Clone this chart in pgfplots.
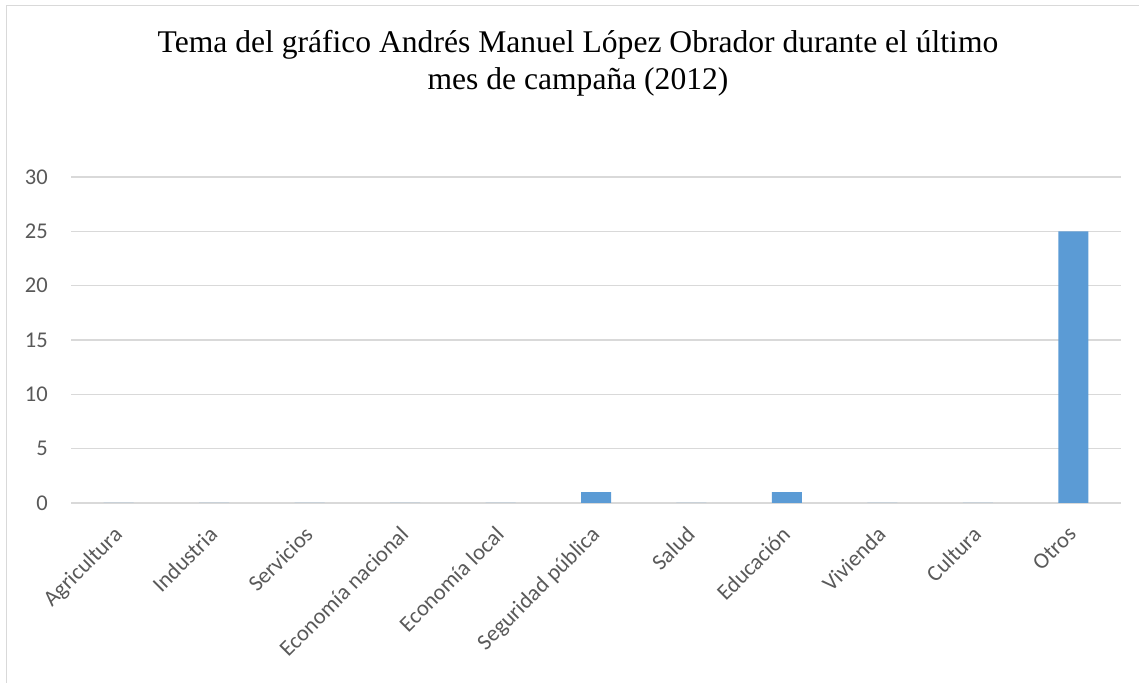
\documentclass[border=0pt]{standalone}
\usepackage{pgfplots}
\pgfplotsset{compat=1.18}
\usepackage{fontspec}
\setmainfont{Carlito}
\newfontfamily\titlefont{Liberation Serif}
\definecolor{barblue}{HTML}{5B9BD5}
\definecolor{gridgray}{HTML}{D9D9D9}
\definecolor{tickgray}{HTML}{595959}
\begin{document}
\begin{tikzpicture}[x=1bp,y=1bp]
\useasboundingbox (0,0) rectangle (1139,683);
\draw[gridgray, line width=1.2bp] (6.5,0) -- (6.5,677.5) -- (1139,677.5);
\node[anchor=base, font=\titlefont\fontsize{31.7}{31.7}\selectfont] at (578,630) {Tema del gráfico Andrés Manuel López Obrador durante el último};
\node[anchor=base, font=\titlefont\fontsize{31.7}{31.7}\selectfont] at (578,593) {mes de campaña (2012)};
\begin{axis}[
  at={(71bp,180bp)}, anchor=south west,
  scale only axis, width=1050bp, height=326bp,
  xmin=0, xmax=11, ymin=0, ymax=30,
  ytick={0,5,...,30},
  xtick={0.5,1.5,...,10.5},
  xticklabels={Agricultura,Industria,Servicios,Economía nacional,Economía local,Seguridad pública,Salud,Educación,Vivienda,Cultura,Otros},
  axis line style={draw=none},
  major tick length=0pt,
  ymajorgrids, grid style={gridgray, line width=1.2bp},
  ticklabel style={font=\fontsize{22.6}{22.6}\selectfont, text=tickgray},
  /pgf/number format/assume math mode=true,
  yticklabel style={anchor=east, inner sep=0pt, xshift=-23bp},
  xticklabel style={rotate=45, anchor=north east, inner sep=0pt, yshift=-11bp, xshift=-20bp},
  ybar, bar width=30bp, bar shift=0pt,
]
\addplot[fill=barblue, draw=none] coordinates {
(0.5,0) (1.5,0) (2.5,0) (3.5,0) (4.5,0) (5.5,1) (6.5,0) (7.5,1) (8.5,0) (9.5,0) (10.5,25)
};
\end{axis}
\end{tikzpicture}
\end{document}
